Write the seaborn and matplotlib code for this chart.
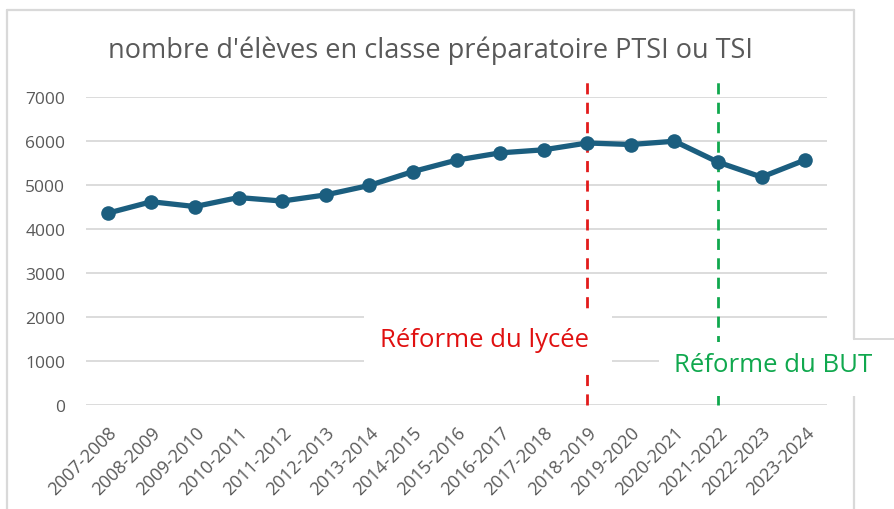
import matplotlib
matplotlib.use("Agg")
import matplotlib.pyplot as plt
from matplotlib.lines import Line2D
from matplotlib.patches import Rectangle
import seaborn as sns
import pandas as pd

years = ["2007-2008", "2008-2009", "2009-2010", "2010-2011", "2011-2012",
         "2012-2013", "2013-2014", "2014-2015", "2015-2016", "2016-2017",
         "2017-2018", "2018-2019", "2019-2020", "2020-2021", "2021-2022",
         "2022-2023", "2023-2024"]
students = [4360, 4620, 4510, 4715, 4635, 4775, 4990, 5305, 5565, 5730,
            5800, 5955, 5920, 5995, 5520, 5180, 5570]
y_ticks = [0, 1000, 2000, 3000, 4000, 5000, 6000, 7000]
title = "nombre d'élèves en classe préparatoire PTSI ou TSI"
reform_lycee = ("Réforme du lycée", "2018-2019")
reform_but = ("Réforme du BUT", "2021-2022")

sns.set_theme(style="white")
plt.rcParams['font.family'] = ['Open Sans', 'DejaVu Sans']

W, H = 894, 510
fig = plt.figure(figsize=(W / 100, H / 100), dpi=100)
fig.patch.set_facecolor("white")

def fx(px):
    return px / W

def fy(py):
    return 1 - py / H

# chart border
border_col = "#d9d9d9"
fig.add_artist(Line2D([fx(7), fx(7)], [fy(11), fy(515)], color=border_col, lw=1.6))
fig.add_artist(Line2D([fx(7), fx(854)], [fy(11), fy(11)], color=border_col, lw=1.6))
fig.add_artist(Line2D([fx(854), fx(854)], [fy(11), fy(340)], color=border_col, lw=1.6))
fig.add_artist(Line2D([fx(854), fx(854)], [fy(388), fy(515)], color=border_col, lw=1.6))
fig.add_artist(Line2D([fx(854), fx(894)], [fy(340), fy(340)], color=border_col, lw=1.4))
fig.add_artist(Line2D([fx(854), fx(894)], [fy(388), fy(388)], color=border_col, lw=1.4))

left, right = 86, 827
top, bottom = 98, 406
ax = fig.add_axes([fx(left), fy(bottom), fx(right) - fx(left), (bottom - top) / H])
ax.set_facecolor("none")

df = pd.DataFrame({"annee": years, "eleves": students})
sns.lineplot(data=df, x="annee", y="eleves", ax=ax, sort=False,
             color="#1b5e7f", lw=3.8, marker="o", markersize=10.5,
             markeredgewidth=0, zorder=5)

ax.set_xlim(-0.5, len(years) - 0.5)
ax.set_ylim(0, 7000)
ax.set_yticks(y_ticks)
ax.set_yticklabels([str(v) for v in y_ticks])
ax.yaxis.grid(True, color="#d9d9d9", lw=1.3)
ax.xaxis.grid(False)
for s in ax.spines.values():
    s.set_visible(False)
ax.set_xlabel("")
ax.set_ylabel("")
ax.tick_params(axis="y", length=0, pad=15, labelsize=12.5, labelcolor="#595959")
ax.tick_params(axis="x", length=0, pad=13, labelsize=13, labelcolor="#595959")
ax.set_xticks(range(len(years)))
ax.set_xticklabels(years, rotation=45, ha="right", rotation_mode="anchor")

ymax_ext = (bottom - 80) / (bottom - top)
ax.axvline(years.index(reform_lycee[1]), ymin=0, ymax=ymax_ext, color="#e21b1b",
           lw=2, ls=(0, (4, 3)), clip_on=False, zorder=3)
ax.axvline(years.index(reform_but[1]), ymin=0, ymax=ymax_ext, color="#10a84e",
           lw=2, ls=(0, (4, 3)), clip_on=False, zorder=3)

fig.text(fx(430), fy(51), title, ha="center", va="center", fontsize=19.5,
         color="#595959")

# text boxes
fig.add_artist(Rectangle((fx(364), fy(370)), fx(612) - fx(364), (370 - 316) / H,
                         facecolor="white", edgecolor="none", zorder=10))
fig.text(fx(485), fy(341), reform_lycee[0], ha="center", va="center",
         fontsize=18.5, color="#e01010", zorder=11)
fig.add_artist(Rectangle((fx(659), fy(397)), fx(900) - fx(659), (397 - 343) / H,
                         facecolor="white", edgecolor="none", zorder=10))
fig.text(fx(773), fy(365), reform_but[0], ha="center", va="center",
         fontsize=18.5, color="#10a84e", zorder=11)

fig.savefig("out.png", dpi=100, facecolor="white")
